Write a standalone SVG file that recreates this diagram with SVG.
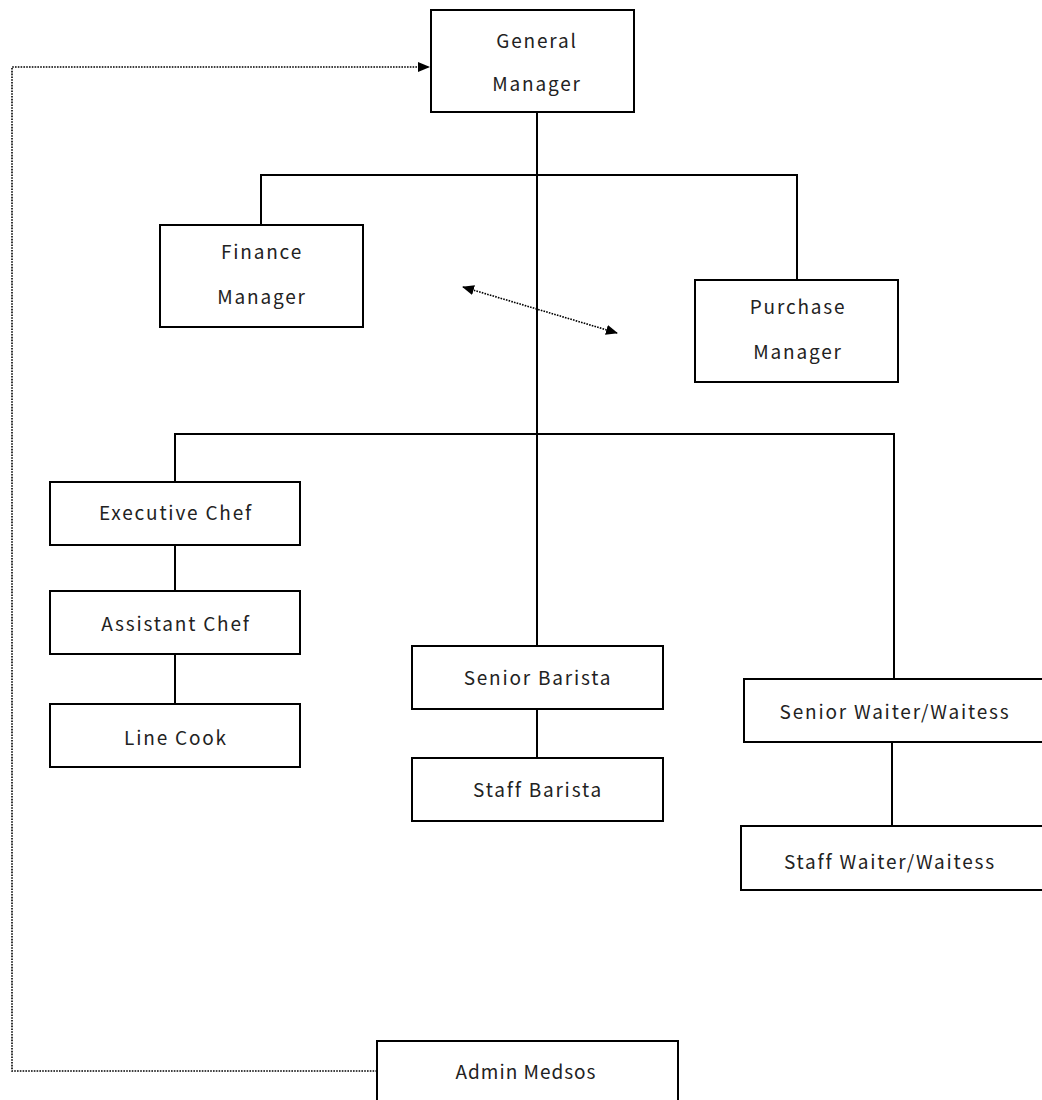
<svg xmlns="http://www.w3.org/2000/svg" width="1042" height="1100" viewBox="0 0 1042 1100">
<style>
.box{fill:#fff;stroke:#000;stroke-width:2}
.ln{fill:none;stroke:#000;stroke-width:2}
.dot{fill:none;stroke:#000;stroke-width:1.6;stroke-dasharray:1.6 1.2}
text{font-family:"Noto Sans CJK JP","Noto Sans",sans-serif;font-size:19px;letter-spacing:1.8px;fill:#222;text-anchor:middle}
</style>
<defs>
<marker id="ah" viewBox="0 0 12 10" refX="11" refY="5" markerWidth="12" markerHeight="10" markerUnits="userSpaceOnUse" orient="auto-start-reverse">
<path d="M0,0 L12,5 L0,10 z" fill="#000"/>
</marker>
</defs>
<rect width="1042" height="1100" fill="#fff"/>
<g id="connectors">
<path class="ln" d="M537,112 V646"/>
<path class="ln" d="M261,225 V175 H797 V280"/>
<path class="ln" d="M175,482 V434 H894 V679"/>
<path class="ln" d="M175,545 V591"/>
<path class="ln" d="M175,654 V704"/>
<path class="ln" d="M537,709 V758"/>
<path class="ln" d="M892,742 V826"/>
<path class="dot" d="M377,1071 H12 V67 H429" marker-end="url(#ah)"/>
<path class="dot" d="M463,287 L617,333" marker-start="url(#ah)" marker-end="url(#ah)"/>
</g>
<g id="general-manager">
<rect class="box" x="431" y="10" width="203" height="102"/>
<text x="537" y="48">General</text>
<text x="537" y="91">Manager</text>
</g>
<g id="finance-manager">
<rect class="box" x="160" y="225" width="203" height="102"/>
<text x="262" y="259">Finance</text>
<text x="262" y="304">Manager</text>
</g>
<g id="purchase-manager">
<rect class="box" x="695" y="280" width="203" height="102"/>
<text x="798" y="314">Purchase</text>
<text x="798" y="359">Manager</text>
</g>
<g id="executive-chef">
<rect class="box" x="50" y="482" width="250" height="63"/>
<text x="176" y="520">Executive Chef</text>
</g>
<g id="assistant-chef">
<rect class="box" x="50" y="591" width="250" height="63"/>
<text x="176" y="631">Assistant Chef</text>
</g>
<g id="line-cook">
<rect class="box" x="50" y="704" width="250" height="63"/>
<text x="176" y="745">Line Cook</text>
</g>
<g id="senior-barista">
<rect class="box" x="412" y="646" width="251" height="63"/>
<text x="538" y="685">Senior Barista</text>
</g>
<g id="staff-barista">
<rect class="box" x="412" y="758" width="251" height="63"/>
<text x="538" y="797">Staff Barista</text>
</g>
<g id="senior-waiter">
<rect class="box" x="744" y="679" width="310" height="63"/>
<text x="895" y="719">Senior Waiter/Waitess</text>
</g>
<g id="staff-waiter">
<rect class="box" x="741" y="826" width="310" height="64"/>
<text x="890" y="869">Staff Waiter/Waitess</text>
</g>
<g id="admin-medsos">
<rect class="box" x="377" y="1041" width="301" height="70"/>
<text x="526" y="1079" style="letter-spacing:1px">Admin Medsos</text>
</g>
</svg>
